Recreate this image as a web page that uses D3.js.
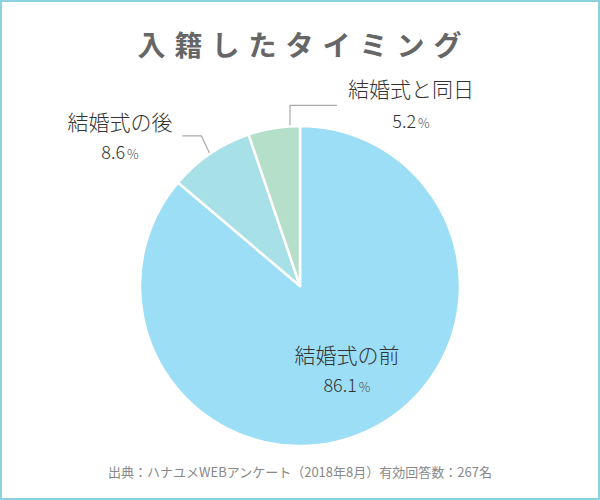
<!DOCTYPE html>
<html><head><meta charset="utf-8">
<script src="https://cdn.jsdelivr.net/npm/d3@7"></script>
<style>
html,body{margin:0;padding:0;background:#fff;}
svg{display:block;font-family:"Noto Sans CJK JP","Noto Sans",sans-serif;}
</style></head>
<body>
<script>
const categories = ["結婚式の前", "結婚式の後", "結婚式と同日"];
const values = [86.1, 8.6, 5.2];
const colors = ["#9cdef6", "#a8e0e8", "#b6dfca"];
const title = "入籍したタイミング";
const source = "出典：ハナユメWEBアンケート（2018年8月）有効回答数：267名";

const W = 600, H = 500, cx = 300, cy = 286, R = 160;
const svg = d3.select("body").append("svg").attr("width", W).attr("height", H);

svg.append("rect").attr("x", 1).attr("y", 1).attr("width", W - 2).attr("height", H - 2)
  .attr("fill", "#fff").attr("stroke", "#8bd4df").attr("stroke-width", 2);

svg.append("text").attr("x", 304).attr("y", 56).attr("text-anchor", "middle")
  .attr("font-size", 28).attr("font-weight", "bold").attr("fill", "#666")
  .attr("letter-spacing", 9).text(title);

const pie = d3.pie().sort(null).value(d => d)(values);
const arc = d3.arc().innerRadius(0).outerRadius(R);
const g = svg.append("g").attr("transform", `translate(${cx},${cy})`);
g.selectAll("path").data(pie).join("path")
  .attr("d", arc).attr("fill", (d, i) => colors[i])
  .attr("stroke", "#fff").attr("stroke-width", 2.5).attr("stroke-linejoin", "round");

// label layout: [name x, name y, pct y] relative to svg
const labelPos = [[347, 363, 392], [120, 130, 159], [411, 97, 128]];
labelPos.forEach((p, i) => {
  svg.append("text").attr("x", p[0]).attr("y", p[1]).attr("text-anchor", "middle")
    .attr("font-size", 21).attr("font-weight", 300).attr("fill", "#333").text(categories[i]);
  const t = svg.append("text").attr("x", p[0]).attr("y", p[2]).attr("text-anchor", "middle")
    .attr("font-size", 18).attr("font-weight", 300).attr("fill", "#333");
  t.append("tspan").text(values[i].toFixed(1));
  t.append("tspan").attr("font-size", 13).attr("fill", "#555").attr("dx", 2).text("%");
});

// leader lines
const pt = (a, r) => [cx + r * Math.sin(a), cy - r * Math.cos(a)];
{
  const d = pie[1];
  const a = (d.startAngle + d.endAngle) / 2;
  const p0 = pt(a, R + 1);
  const p1 = [p0[0] - 8, p0[1] - 17];
  const p2 = [p1[0] - 19, p1[1]];
  svg.append("polyline").attr("points", [p0, p1, p2].map(p => p.join(",")).join(" "))
    .attr("fill", "none").attr("stroke", "#aaa").attr("stroke-width", 1.2);
}
{
  const d = pie[2];
  const a = d.startAngle + (d.endAngle - d.startAngle) * 0.81;
  const p0 = pt(a, R + 1);
  const p1 = [p0[0], p0[1] - 20];
  const p2 = [p1[0] + 47, p1[1]];
  svg.append("polyline").attr("points", [p0, p1, p2].map(p => p.join(",")).join(" "))
    .attr("fill", "none").attr("stroke", "#aaa").attr("stroke-width", 1.2);
}

svg.append("text").attr("x", 300).attr("y", 477).attr("text-anchor", "middle")
  .attr("font-size", 13).attr("fill", "#888").text(source);
</script>
</body></html>
